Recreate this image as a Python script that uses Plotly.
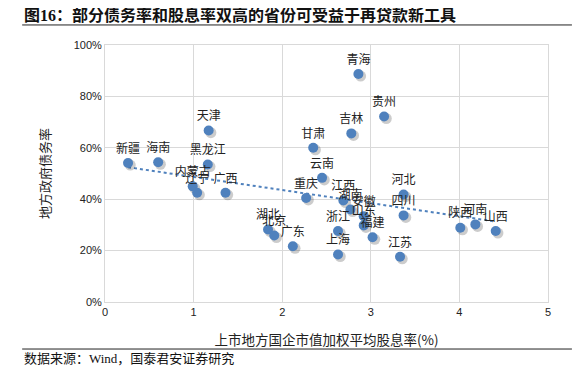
import numpy as np
import plotly.graph_objects as go

provinces = ["新疆", "海南", "天津", "黑龙江", "内蒙古", "辽宁", "广西", "甘肃", "云南", "重庆",
             "青海", "贵州", "吉林", "湖北", "北京", "广东", "江西", "湖南", "安徽", "山东",
             "福建", "浙江", "上海", "江苏", "河北", "四川", "陕西", "河南", "山西"]
dividend_yield = [0.26, 0.60, 1.17, 1.16, 0.99, 1.04, 1.36, 2.35, 2.45, 2.27,
                  2.86, 3.15, 2.78, 1.84, 1.91, 2.12, 2.69, 2.77, 2.92, 2.92,
                  3.02, 2.63, 2.63, 3.33, 3.37, 3.37, 4.01, 4.18, 4.41]
debt_ratio = [54.1, 54.4, 66.7, 53.5, 45.0, 42.5, 42.5, 60.0, 48.3, 40.5,
              88.7, 72.2, 65.6, 28.2, 25.9, 21.7, 39.5, 36.0, 33.4, 29.8,
              25.2, 27.6, 18.5, 17.6, 41.8, 33.7, 28.9, 30.2, 27.6]
x_ticks = [0, 1, 2, 3, 4, 5]
y_ticks = [0, 20, 40, 60, 80, 100]
y_tick_labels = ["0%", "20%", "40%", "60%", "80%", "100%"]

x = np.array(dividend_yield)
y = np.array(debt_ratio)
slope, intercept = np.polyfit(x, y, 1)
trend_x = np.array([x.min(), x.max()])
trend_y = slope * trend_x + intercept

blue = "#4F81BD"
cjk = "Noto Sans CJK SC"
serif = "Liberation Serif, " + cjk

fig = go.Figure()
# trend line
fig.add_trace(go.Scatter(x=trend_x, y=trend_y, mode="lines",
                         line=dict(color=blue, width=2, dash="dot"),
                         hoverinfo="skip", showlegend=False))
# shadow
fig.add_trace(go.Scatter(x=x + 0.025, y=y - 0.8, mode="markers",
                         marker=dict(size=11, color="rgba(0,0,0,0.2)", line=dict(width=0)),
                         hoverinfo="skip", showlegend=False))
# points
fig.add_trace(go.Scatter(x=x, y=y, mode="markers+text", text=provinces,
                         textposition="top center",
                         textfont=dict(family=cjk, size=12, color="#222222"),
                         marker=dict(size=10, color=blue, line=dict(width=0)),
                         showlegend=False))

fig.update_layout(
    width=574, height=364,
    margin=dict(l=97, r=34, t=37, b=70),
    paper_bgcolor="white", plot_bgcolor="white",
    font=dict(family="Liberation Sans, " + cjk, size=11, color="#222222"),
    xaxis=dict(range=[0, 5], tickvals=x_ticks, showgrid=True, gridcolor="#D9D9D9",
               gridwidth=1, zeroline=False, showline=True, linecolor="#D9D9D9",
               mirror=True, ticks="", tickfont=dict(size=11),
               title=dict(text="上市地方国企市值加权平均股息率(%)",
                          font=dict(family=cjk, size=13.5), standoff=18)),
    yaxis=dict(range=[0, 100], tickvals=y_ticks, ticktext=y_tick_labels,
               showgrid=True, gridcolor="#D9D9D9", gridwidth=1, zeroline=False,
               showline=True, linecolor="#D9D9D9", mirror=True, ticks="",
               tickfont=dict(size=11),
               title=dict(text="地方政府债务率", font=dict(family=cjk, size=13), standoff=20)),
    shapes=[
        dict(type="line", xref="paper", yref="paper", x0=-0.187, x1=1.054,
             y0=1.078, y1=1.078, line=dict(color="#222222", width=1)),
        dict(type="line", xref="paper", yref="paper", x0=-0.187, x1=1.054,
             y0=-0.183, y1=-0.183, line=dict(color="#222222", width=1)),
    ],
    annotations=[
        dict(text="<b>图16：部分债务率和股息率双高的省份可受益于再贷款新工具</b>",
             xref="paper", yref="paper", x=-0.187, y=1.117, xanchor="left", yanchor="middle",
             showarrow=False, font=dict(family=serif, size=16, color="#111111")),
        dict(text="数据来源：Wind，国泰君安证券研究",
             xref="paper", yref="paper", x=-0.187, y=-0.218, xanchor="left", yanchor="middle",
             showarrow=False, font=dict(family=serif, size=13, color="#111111")),
    ],
)

fig.write_html("out.html")
